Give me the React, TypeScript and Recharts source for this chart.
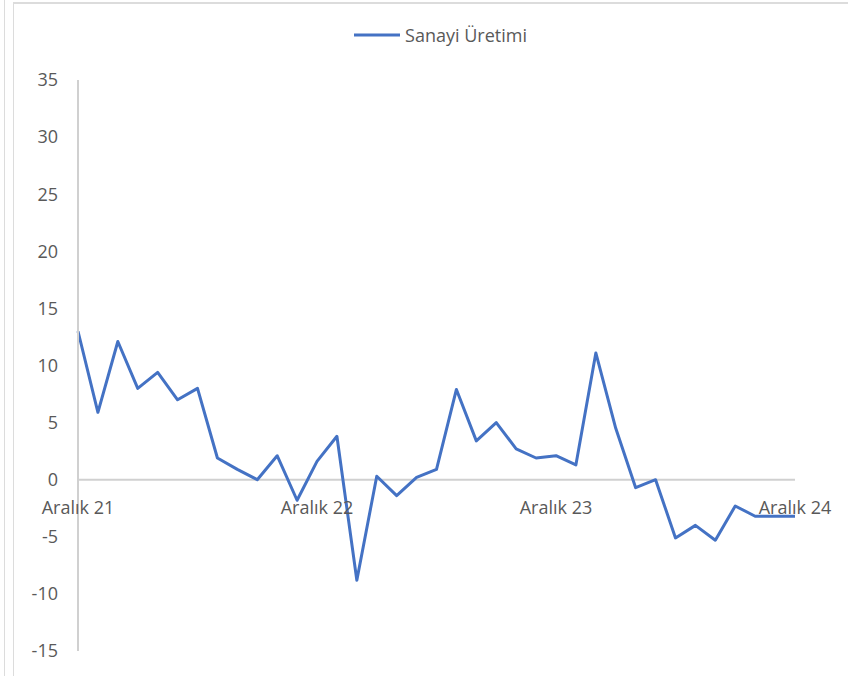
import { LineChart, Line, XAxis, YAxis, ReferenceLine, Legend } from 'recharts';

const periods = [
  'Aralık 21', 'Ocak 22', 'Şubat 22', 'Mart 22', 'Nisan 22', 'Mayıs 22', 'Haziran 22',
  'Temmuz 22', 'Ağustos 22', 'Eylül 22', 'Ekim 22', 'Kasım 22', 'Aralık 22',
  'Ocak 23', 'Şubat 23', 'Mart 23', 'Nisan 23', 'Mayıs 23', 'Haziran 23',
  'Temmuz 23', 'Ağustos 23', 'Eylül 23', 'Ekim 23', 'Kasım 23', 'Aralık 23',
  'Ocak 24', 'Şubat 24', 'Mart 24', 'Nisan 24', 'Mayıs 24', 'Haziran 24',
  'Temmuz 24', 'Ağustos 24', 'Eylül 24', 'Ekim 24', 'Kasım 24', 'Aralık 24',
];

const sanayiUretimi = [
  13.0, 5.9, 12.1, 8.0, 9.4, 7.0, 8.0, 1.9, 0.9, 0.0, 2.1, -1.8, 1.6,
  3.8, -8.8, 0.3, -1.4, 0.2, 0.9, 7.9, 3.4, 5.0, 2.7, 1.9, 2.1, 1.3,
  11.1, 4.5, -0.7, 0.0, -5.1, -4.0, -5.3, -2.3, -3.2, -3.2, -3.2,
];

const yTicks = [-15, -10, -5, 0, 5, 10, 15, 20, 25, 30, 35];

const data = periods.map((p, i) => ({ period: p, value: sanayiUretimi[i] }));

const FONT = '"Open Sans", sans-serif';
const TEXT = '#595959';
const AXIS = '#d0d0d0';
const BLUE = '#4472C4';

const W = 848;
const H = 676;
const PLOT_TOP = 80;
const PLOT_BOTTOM = 651;
const Y_MIN = -15;
const Y_MAX = 35;

// category labels sit just under the zero line, like Excel does
function PeriodTick(props: any) {
  const { x, payload } = props;
  const zeroY = PLOT_TOP + ((Y_MAX - 0) / (Y_MAX - Y_MIN)) * (PLOT_BOTTOM - PLOT_TOP);
  return (
    <text x={x} y={zeroY + 27} textAnchor="middle" dominantBaseline="central"
      fill={TEXT} fontSize={18} fontFamily={FONT}>
      {payload.value}
    </text>
  );
}

function LegendContent() {
  return (
    <div style={{ display: 'flex', justifyContent: 'center', alignItems: 'center', paddingLeft: 68, height: 30 }}>
      <svg width={46} height={6} style={{ marginRight: 5 }}>
        <line x1={0} y1={3} x2={46} y2={3} stroke={BLUE} strokeWidth={3} />
      </svg>
      <span style={{ fontFamily: FONT, fontSize: 18, color: TEXT }}>Sanayi Üretimi</span>
    </div>
  );
}

export default function App() {
  return (
    <div style={{ position: 'absolute', left: 0, top: 0, width: W, height: H, background: '#fff' }}>
      <div style={{ position: 'absolute', left: 4, top: 0, width: 1, height: H, background: '#dcdcdc' }} />
      <div style={{ position: 'absolute', left: 13, top: 2, right: 0, bottom: 0, borderLeft: '1px solid #dcdcdc', borderTop: '2px solid #dcdcdc' }} />
      <div style={{ position: 'absolute', left: 0, top: 0 }}>
        <LineChart width={W} height={H} data={data}
          margin={{ top: 50, right: W - 795, bottom: H - PLOT_BOTTOM - 1, left: 18 }}>
          <Legend verticalAlign="top" height={30} content={<LegendContent />} wrapperStyle={{ top: 20 }} />
          <XAxis dataKey="period" interval={11} axisLine={false} tickLine={false} height={1}
            padding={{ left: 0, right: 0 }} tick={<PeriodTick />} />
          <YAxis domain={[Y_MIN, Y_MAX]} ticks={yTicks} width={60} interval={0}
            axisLine={{ stroke: AXIS, strokeWidth: 2 }} tickLine={false} tickSize={0} tickMargin={20}
            tick={{ fill: TEXT, fontSize: 18, fontFamily: FONT }} />
          <ReferenceLine y={0} stroke={AXIS} strokeWidth={2} />
          <Line type="linear" dataKey="value" stroke={BLUE} strokeWidth={3} dot={false}
            strokeLinejoin="round" isAnimationActive={false} />
        </LineChart>
      </div>
    </div>
  );
}
